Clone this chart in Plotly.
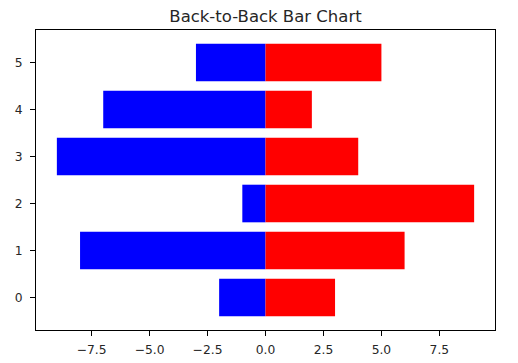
import plotly.graph_objects as go

categories = [0, 1, 2, 3, 4, 5]
left_values = [-2, -8, -1, -9, -7, -3]
right_values = [3, 6, 9, 4, 2, 5]
x_tickvals = [-7.5, -5.0, -2.5, 0.0, 2.5, 5.0, 7.5]
x_ticktext = ["\u22127.5", "\u22125.0", "\u22122.5", "0.0", "2.5", "5.0", "7.5"]
y_tickvals = [0, 1, 2, 3, 4, 5]

fig = go.Figure()
fig.add_trace(go.Bar(y=categories, x=left_values, orientation="h", width=0.8,
                     marker=dict(color="blue", line=dict(width=0)), showlegend=False))
fig.add_trace(go.Bar(y=categories, x=right_values, orientation="h", width=0.8,
                     marker=dict(color="red", line=dict(width=0)), showlegend=False))

axis_common = dict(showline=True, linecolor="black", linewidth=1, mirror=True,
                   ticks="outside", ticklen=5, tickwidth=1, tickcolor="black",
                   showgrid=False, zeroline=False, automargin=False,
                   tickfont=dict(family="DejaVu Sans", size=12.3, color="#262626"))

fig.update_layout(
    width=518, height=363,
    margin=dict(l=36, r=23, t=30, b=33),
    barmode="overlay",
    plot_bgcolor="white", paper_bgcolor="white",
    title=dict(text="Back-to-Back Bar Chart", x=(36 + 495) / 2 / 518, xanchor="center",
               y=1 - 16 / 363, yanchor="middle",
               font=dict(family="DejaVu Sans", size=16.5, color="#262626")),
    xaxis=dict(range=[-9.9, 9.9], tickvals=x_tickvals, ticktext=x_ticktext,
               ticklabelstandoff=3, **axis_common),
    yaxis=dict(range=[-0.69, 5.69], tickvals=y_tickvals,
               ticklabelstandoff=5, **axis_common),
)

fig.write_html("out.html", config={"displayModeBar": False},
               post_script="document.body.style.margin='0';")
